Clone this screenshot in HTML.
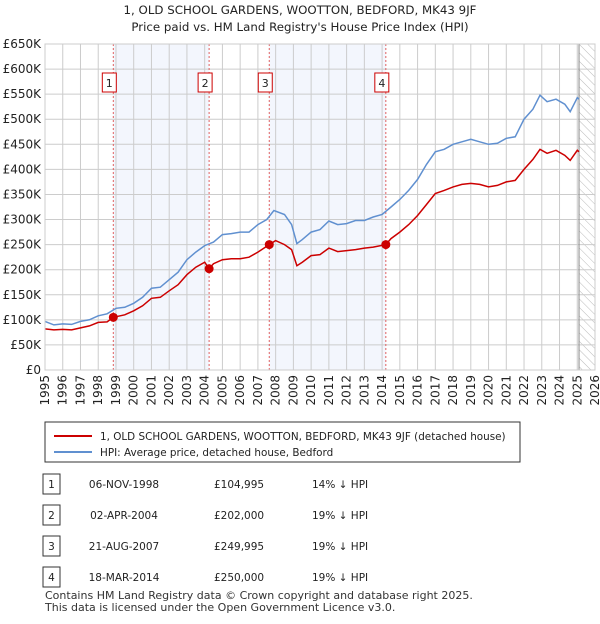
<!DOCTYPE html>
<html><head><meta charset="utf-8">
<style>
body{margin:0;background:#fff;font-family:"DejaVu Sans","Liberation Sans",sans-serif;}
svg text{font-family:"DejaVu Sans","Liberation Sans",sans-serif;}
</style></head>
<body>
<svg id="chart" width="600" height="620" viewBox="0 0 600 620" xmlns="http://www.w3.org/2000/svg">
<defs>
<pattern id="hatch" width="6" height="6" patternUnits="userSpaceOnUse" patternTransform="rotate(-45)">
<line x1="0" y1="0" x2="0" y2="6" stroke="#bbb" stroke-width="1"/>
</pattern>
</defs>
<text x="300" y="14" text-anchor="middle" font-size="11.8" fill="#222">1, OLD SCHOOL GARDENS, WOOTTON, BEDFORD, MK43 9JF</text>
<text x="300" y="31" text-anchor="middle" font-size="11.8" fill="#222">Price paid vs. HM Land Registry's House Price Index (HPI)</text>
<g id="plot"></g>
<g id="legend">
<rect x="45" y="422" width="475" height="40" fill="#fff" stroke="#333" stroke-width="1"/>
<line x1="54" y1="436" x2="92" y2="436" stroke="#cc0000" stroke-width="2"/>
<text x="100" y="440" font-size="10.4" fill="#222">1, OLD SCHOOL GARDENS, WOOTTON, BEDFORD, MK43 9JF (detached house)</text>
<line x1="54" y1="452" x2="92" y2="452" stroke="#6090d0" stroke-width="2"/>
<text x="100" y="456" font-size="10.4" fill="#222">HPI: Average price, detached house, Bedford</text>
</g>
<g id="table"></g>
<text x="45" y="599" font-size="11" fill="#333">Contains HM Land Registry data © Crown copyright and database right 2025.</text>
<text x="45" y="611" font-size="11" fill="#333">This data is licensed under the Open Government Licence v3.0.</text>
</svg>
<script>
const hpiYears=[1995,1995.5,1996,1996.5,1997,1997.5,1998,1998.5,1999,1999.5,2000,2000.5,2001,2001.5,2002,2002.5,2003,2003.5,2004,2004.5,2005,2005.5,2006,2006.5,2007,2007.5,2007.9,2008.5,2008.9,2009.2,2009.5,2010,2010.5,2011,2011.5,2012,2012.5,2013,2013.5,2014,2014.5,2015,2015.5,2016,2016.5,2017,2017.5,2018,2018.5,2019,2019.5,2020,2020.5,2021,2021.5,2022,2022.5,2022.9,2023.3,2023.8,2024.3,2024.6,2025,2025.1];
const hpiValues=[97,90,92,91,97,100,108,112,123,125,133,145,163,165,180,195,220,235,248,255,270,272,275,275,290,300,318,310,290,252,260,275,280,297,290,292,298,298,305,310,325,340,358,380,410,435,440,450,455,460,455,450,452,462,465,500,520,548,535,540,530,515,543,540];
const priceYears=[1995,1995.5,1996,1996.5,1997,1997.5,1998,1998.5,1998.85,1999.5,2000,2000.5,2001,2001.5,2002,2002.5,2003,2003.5,2004,2004.25,2004.5,2005,2005.5,2006,2006.5,2007,2007.64,2008,2008.5,2008.9,2009.2,2009.5,2010,2010.5,2011,2011.5,2012,2012.5,2013,2013.5,2014.21,2014.5,2015,2015.5,2016,2016.5,2017,2017.5,2018,2018.5,2019,2019.5,2020,2020.5,2021,2021.5,2022,2022.5,2022.9,2023.3,2023.8,2024.3,2024.6,2025,2025.1];
const priceValues=[82,80,81,80,84,88,95,96,105,110,118,128,143,145,158,170,190,205,215,202,212,220,222,222,225,235,250,258,250,240,208,215,228,230,243,236,238,240,243,245,250,262,275,290,308,330,352,358,365,370,372,370,365,368,375,378,400,420,440,432,438,428,418,438,435];
const saleYears=[1998.85,2004.25,2007.64,2014.21];
const saleValues=[104.995,202,249.995,250];
const saleLabels=["1","2","3","4"];
const saleDates=["06-NOV-1998","02-APR-2004","21-AUG-2007","18-MAR-2014"];
const salePrices=["£104,995","£202,000","£249,995","£250,000"];
const saleDiffs=["14% ↓ HPI","19% ↓ HPI","19% ↓ HPI","19% ↓ HPI"];
const yTicks=[0,50,100,150,200,250,300,350,400,450,500,550,600,650];
const yTickLabels=["£0","£50K","£100K","£150K","£200K","£250K","£300K","£350K","£400K","£450K","£500K","£550K","£600K","£650K"];
const xTicks=[1995,1996,1997,1998,1999,2000,2001,2002,2003,2004,2005,2006,2007,2008,2009,2010,2011,2012,2013,2014,2015,2016,2017,2018,2019,2020,2021,2022,2023,2024,2025,2026];
const dataEnd=2025.1;

const NS="http://www.w3.org/2000/svg";
const X0=45,X1=595,Y0=370,Y1=44;
const xs=y=>X0+(y-1995)/(2026-1995)*(X1-X0);
const ys=v=>Y0-v/650*(Y0-Y1);
const plot=document.getElementById('plot');
function mk(tag,attrs,parent){const e=document.createElementNS(NS,tag);for(const k in attrs)e.setAttribute(k,attrs[k]);(parent||plot).appendChild(e);return e;}

for(const [a,b] of [[0,1],[2,3]]){
  const r=mk('rect',{x:xs(saleYears[a]),y:Y1,width:xs(saleYears[b])-xs(saleYears[a]),height:Y0-Y1,fill:'#f3f6fd'});
  
  
}
const h=mk('rect',{x:xs(dataEnd),y:Y1,width:X1-xs(dataEnd),height:Y0-Y1,fill:'url(#hatch)'});


yTicks.forEach((t,i)=>{
  const l=mk('line',{x1:X0,x2:X1,y1:ys(t),y2:ys(t),stroke:'#ccc','stroke-width':1});
  
  
  const tx=mk('text',{x:X0-4,y:ys(t)+4,'text-anchor':'end','font-size':12,fill:'#222'});
  
  
  tx.textContent=yTickLabels[i];
});
xTicks.forEach(t=>{
  const l=mk('line',{x1:xs(t),x2:xs(t),y1:Y1,y2:Y0,stroke:'#ccc','stroke-width':1});
  
  
  const tx=mk('text',{x:0,y:0,'text-anchor':'end','font-size':12,fill:'#222',transform:`translate(${xs(t)+4},375) rotate(-90)`});
  
  
  tx.textContent=t;
});
const de=mk('line',{x1:xs(dataEnd),x2:xs(dataEnd),y1:Y1,y2:Y0,stroke:'#888','stroke-width':1});


saleYears.forEach((s,i)=>{
  const l=mk('line',{x1:xs(s),x2:xs(s),y1:Y1,y2:Y0,stroke:'#e06060','stroke-width':1,'stroke-dasharray':'2,2'});
  
  
});
function path(xa,va,col,name){
  const d=xa.map((x,i)=>(i?'L':'M')+xs(x).toFixed(1)+','+ys(va[i]).toFixed(1)).join('');
  const p=mk('path',{d:d,fill:'none',stroke:col,'stroke-width':1.5});
  
  
}
path(hpiYears,hpiValues,'#6090d0','hpi-line');
path(priceYears,priceValues,'#cc0000','price-line');
saleYears.forEach((s,i)=>{
  const c=mk('circle',{cx:xs(s),cy:ys(saleValues[i]),r:4.5,fill:'#cc0000'});
  
  
  const g=mk('g',{});
  
  
  mk('rect',{x:xs(s)-11,y:73,width:14,height:19,fill:'#fff',stroke:'#cc0000','stroke-width':1},g);
  const t=mk('text',{x:xs(s)-4,y:87,'text-anchor':'middle','font-size':11,fill:'#222'},g);
  t.textContent=saleLabels[i];
});
const frame=mk('rect',{x:X0,y:Y1,width:X1-X0,height:Y0-Y1,fill:'none',stroke:'#ccc'});


const tbl=document.getElementById('table');
saleLabels.forEach((lab,i)=>{
  const y=484+i*31;
  const g=mk('g',{},tbl);
  
  
  mk('rect',{x:43,y:y-10,width:17,height:20,fill:'#fff',stroke:'#333'},g);
  const t0=mk('text',{x:51.5,y:y+4,'text-anchor':'middle','font-size':10.5,fill:'#222'},g);t0.textContent=lab;
  const t1=mk('text',{x:124,y:y+4,'text-anchor':'middle','font-size':10.5,fill:'#222'},g);t1.textContent=saleDates[i];
  const t2=mk('text',{x:214,y:y+4,'font-size':10.5,fill:'#222'},g);t2.textContent=salePrices[i];
  const t3=mk('text',{x:312,y:y+4,'font-size':10.5,fill:'#222'},g);t3.textContent=saleDiffs[i];
});
</script>
</body></html>
